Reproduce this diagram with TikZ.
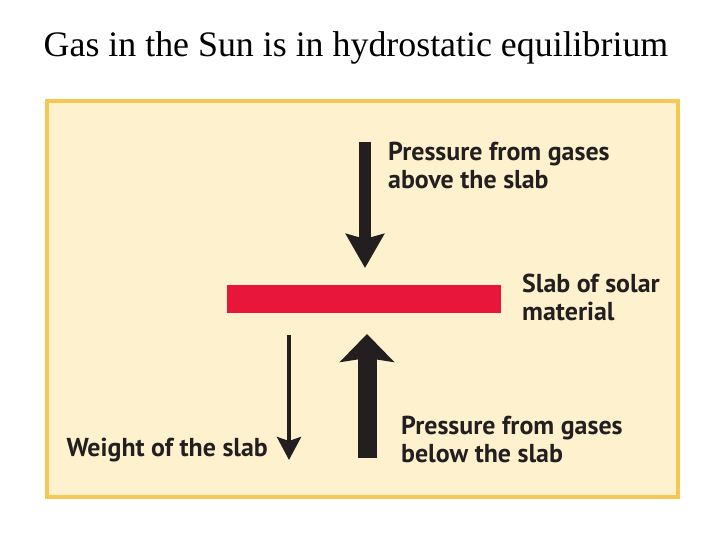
\documentclass[tikz,border=0pt]{standalone}
\usepackage{fontspec}
\setmainfont{Liberation Serif}
\newfontfamily\labelfont{PT Sans}
\usetikzlibrary{arrows.meta,positioning}
\definecolor{panelfill}{RGB}{254,242,206}
\definecolor{panelrule}{RGB}{244,200,82}
\definecolor{slabred}{RGB}{232,22,58}
\definecolor{ink}{RGB}{35,31,32}
\tikzset{
  caption/.style={font=\labelfont\bfseries\fontsize{26}{28}\selectfont,
                  text=ink, align=left, inner sep=0pt},
  force/.style={draw=ink, line width=#1}
}

\begin{document}
\begin{tikzpicture}[x=1bp,y=-1bp]
	\useasboundingbox (0,0) rectangle (720,540);
	\node[font=\fontsize{36}{40}\selectfont] (title) at (356,48) {Gas in the Sun is in hydrostatic equilibrium};
	\draw[panelrule, fill=panelfill, line width=3.5bp] (47,101) rectangle (678,497);
	% slab and its forces
	\node[fill=slabred, minimum width=274bp, minimum height=28bp, inner sep=0pt] (slab) at (364,299) {};
	\coordinate (above) at (365,142);
	\coordinate (abovetip) at (365,268);
	\coordinate (below) at (367,458);
	\coordinate (belowtip) at (367,334);
	\coordinate (weight) at (289,335);
	\coordinate (weighttip) at (289,460);
	\draw[force=12bp, -{Stealth[length=34bp,width=38bp,inset=5bp]}] (above) -- (abovetip);
	\draw[force=19bp, -{Stealth[length=28bp,width=54bp,inset=4bp]}] (below) -- (belowtip);
	\draw[force=4bp, -{Stealth[length=23bp,width=24bp,inset=4bp]}] (weight) -- (weighttip);
	% labels
	\node[caption, anchor=north west] (abovetext) at (388,142) {Pressure from gases\\above the slab};
	\node[caption, anchor=north west] (slabtext) at (522,274) {Slab of solar\\material};
	\node[caption, anchor=north west] (belowtext) at (401,416) {Pressure from gases\\below the slab};
	\node[caption, anchor=north east] (weighttext) at (268,438) {Weight of the slab};
\end{tikzpicture}
\end{document}
